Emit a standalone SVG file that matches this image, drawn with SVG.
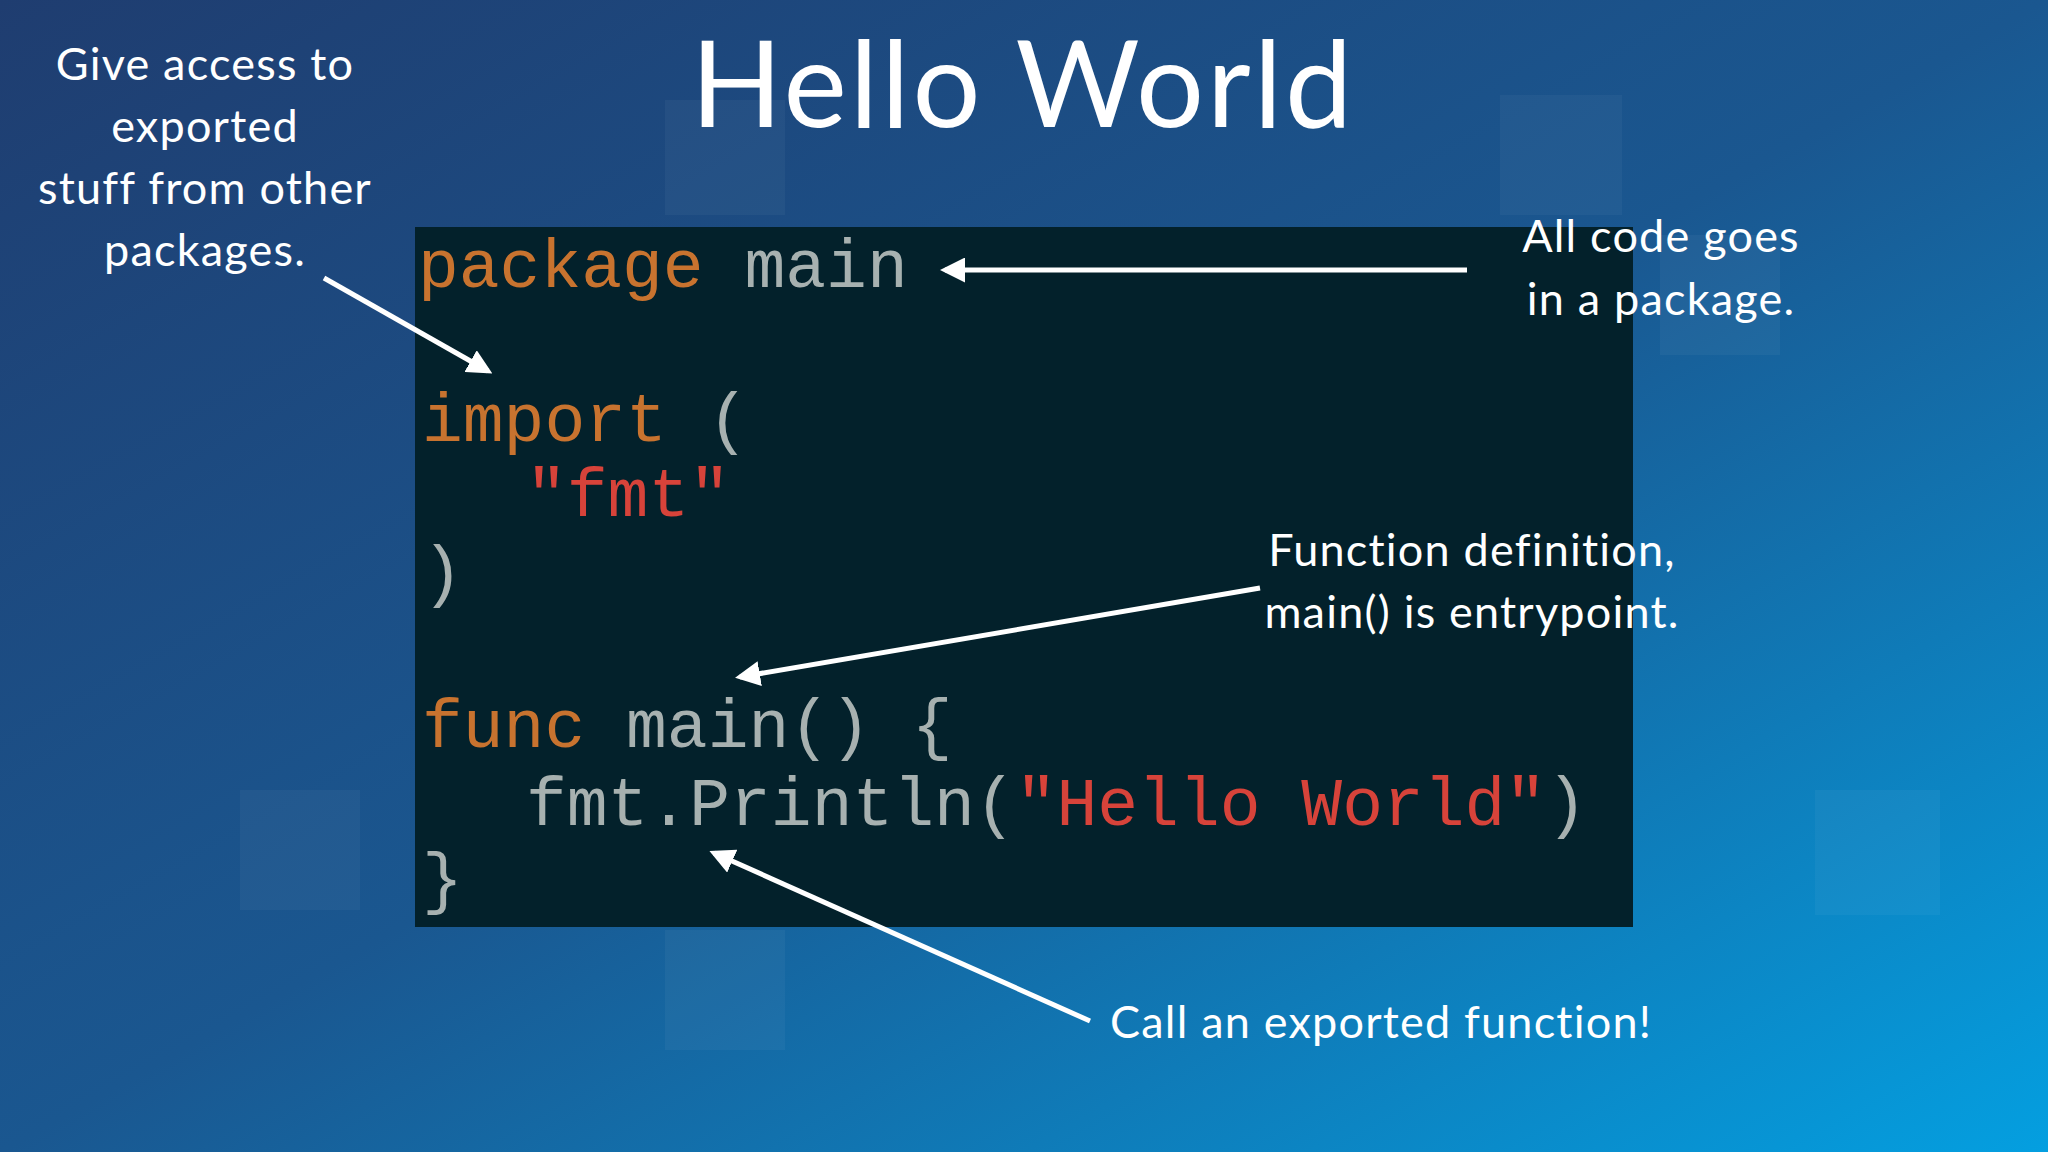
<svg xmlns="http://www.w3.org/2000/svg" width="2048" height="1152" viewBox="0 0 2048 1152">
<defs>
<linearGradient id="bg" x1="0" y1="0" x2="1" y2="1">
<stop offset="0" stop-color="#1f3d70"/>
<stop offset="0.5" stop-color="#1a5790"/>
<stop offset="1" stop-color="#049fe0"/>
</linearGradient>
<marker id="ah" viewBox="0 0 10 10" refX="8" refY="5" markerWidth="5" markerHeight="5" orient="auto" markerUnits="strokeWidth">
<path d="M0,0 L10,5 L0,10 Z" fill="#fff"/>
</marker>
<style>
.note{font-family:Lato,"Open Sans",sans-serif;font-size:45px;letter-spacing:1.2px;fill:#fff}
.code{font-family:"Liberation Mono","DejaVu Sans Mono",monospace;font-size:68px}
.kw{fill:#c8732f}.pl{fill:#a7b1b0}.st{fill:#d7433a}
.arr{stroke:#fff;stroke-width:5;fill:none;marker-end:url(#ah)}
.sq{fill:#ffffff;opacity:0.04}
</style>
</defs>
<rect width="2048" height="1152" fill="url(#bg)"/>
<rect class="sq" x="665" y="100" width="120" height="115"/>
<rect class="sq" x="1500" y="95" width="122" height="120"/>
<rect class="sq" x="1660" y="235" width="120" height="120"/>
<rect class="sq" x="665" y="930" width="120" height="120"/>
<rect class="sq" x="240" y="790" width="120" height="120"/>
<rect class="sq" x="1815" y="790" width="125" height="125"/>
<text x="1023" y="127" text-anchor="middle" font-family="Lato,'Open Sans',sans-serif" font-size="120" letter-spacing="3" fill="#fff">Hello World</text>
<g id="codebox">
<rect x="415" y="227" width="1218" height="700" fill="#03212b"/>
<text class="code" x="418" y="287"><tspan class="kw">package</tspan><tspan class="pl"> main</tspan></text>
<text class="code" x="422" y="441"><tspan class="kw">import</tspan><tspan class="pl"> (</tspan></text>
<text class="code st" x="526" y="516">"fmt"</text>
<text class="code pl" x="422" y="594">)</text>
<text class="code" x="422" y="747"><tspan class="kw">func</tspan><tspan class="pl"> main() {</tspan></text>
<text class="code" x="526" y="825"><tspan class="pl">fmt.Println(</tspan><tspan class="st">"Hello World"</tspan><tspan class="pl">)</tspan></text>
<text class="code pl" x="422" y="901">}</text>
</g>
<g id="note-import">
<text class="note" text-anchor="middle" x="205" y="80">Give access to</text>
<text class="note" text-anchor="middle" x="205" y="142">exported</text>
<text class="note" text-anchor="middle" x="205" y="204">stuff from other</text>
<text class="note" text-anchor="middle" x="205" y="266">packages.</text>
</g>
<g id="note-package">
<text class="note" text-anchor="middle" x="1661" y="252">All code goes</text>
<text class="note" text-anchor="middle" x="1661" y="315">in a package.</text>
</g>
<g id="note-func">
<text class="note" text-anchor="middle" x="1472" y="566">Function definition,</text>
<text class="note" text-anchor="middle" x="1472" y="628">main() is entrypoint.</text>
</g>
<g id="note-call">
<text class="note" x="1110" y="1038">Call an exported function!</text>
</g>
<g id="connectors">
<line class="arr" x1="324" y1="278" x2="488" y2="371"/>
<line class="arr" x1="1467" y1="270" x2="945" y2="270"/>
<line class="arr" x1="1260" y1="588" x2="740" y2="677"/>
<line class="arr" x1="1090" y1="1021" x2="714" y2="853"/>
</g>
</svg>
